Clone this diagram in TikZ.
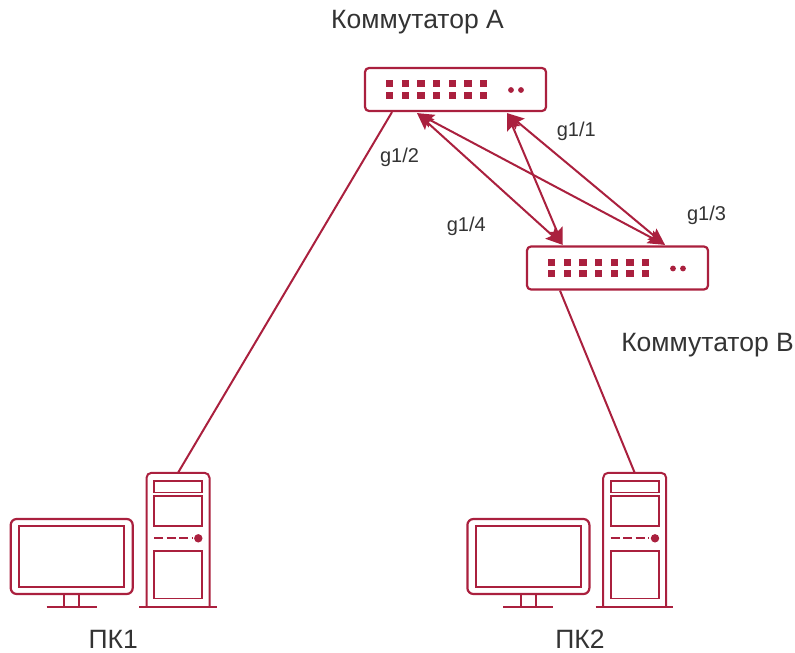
\documentclass[tikz,border=0pt]{standalone}
\usepackage{fontspec}
\setmainfont{Liberation Sans}
\usetikzlibrary{arrows.meta}
\definecolor{netred}{RGB}{170,32,62}
\definecolor{labelgray}{RGB}{51,51,51}

\begin{document}
\begin{tikzpicture}[x=1pt, y=-1pt,
    switchbox/.style={draw=netred, line width=2.2pt, rounded corners=4pt, minimum width=181pt, minimum height=43pt, inner sep=0pt},
    towerbox/.style={minimum width=62.6pt, minimum height=133.7pt, inner sep=0pt},
    title/.style={text=labelgray, font=\fontsize{26.5}{30}\selectfont},
    port/.style={text=labelgray, font=\fontsize{20}{24}\selectfont},
    link/.style={netred, line width=2pt},
    duplex/.style={netred, line width=2pt, {Stealth[length=17pt, width=14pt, inset=3pt]}-{Stealth[length=17pt, width=14pt, inset=3pt]}}]
\useasboundingbox (0, 0) rectangle (795, 653);

\node[switchbox] (swA) at (455.5, 89.5) {};
\node[switchbox] (swB) at (617.5, 268) {};
\foreach \sw in {swA, swB} {
    \foreach \i in {0,...,6}
        \foreach \j in {-5.8, 5.7}
            \fill[netred] ([shift={(-69.5+15.65*\i, \j-3.7)}]\sw.center) rectangle +(7.4, 7.4);
    \fill[netred] ([shift={(55.5, 0.5)}]\sw.center) circle (2.9);
    \fill[netred] ([shift={(65.5, 0.5)}]\sw.center) circle (2.9);
}

\node[title] (titleA) at (417.5, 22.5) {Коммутатор A};
\node[title] (titleB) at (707.5, 345) {Коммутатор B};

% computers
\foreach \pc/\dx in {1/0, 2/456.7} {
\begin{scope}[xshift=\dx]
    \node[towerbox] (tower\pc) at (178, 539.85) {};
    \draw[netred, line width=2pt, rounded corners=5pt] (tower\pc.south west) |- (tower\pc.north) -| (tower\pc.south east);
    \draw[netred, line width=2pt] (139, 606.7) -- (216.7, 606.7);
    \draw[netred, line width=1.6pt] (154, 481) rectangle (202, 492.3);
    \draw[netred, line width=1.6pt] (154, 496) rectangle (202, 525.7);
    \draw[netred, line width=2pt, dash pattern=on 9pt off 3.5pt] (154, 538.3) -- (191.7, 538.3);
    \fill[netred] (198.3, 538.3) circle (4.2);
    \draw[netred, line width=1.6pt] (154, 551) rectangle (202, 598.3);
    \draw[netred, line width=2.2pt, rounded corners=6pt] (10.7, 519) rectangle (132.7, 594);
    \draw[netred, line width=1.6pt] (19, 525.7) rectangle (124, 586.7);
    \draw[netred, line width=2pt] (64, 594) -- (64, 606.7) (79, 594) -- (79, 606.7);
    \draw[netred, line width=2pt] (46.7, 606.7) -- (96.7, 606.7);
\end{scope}
}
\node[title] (pc1) at (113.3, 639) {ПК1};
\node[title] (pc2) at (580, 639) {ПК2};

\draw[link] ([xshift=-63.5]swA.south) -- (tower1.north);
\draw[link] ([xshift=-57.5]swB.south) -- (tower2.north);

\draw[duplex] ([shift={(-38.5, 1)}]swA.south) -- ([shift={(-54.8, -0.5)}]swB.north);
\draw[duplex] ([shift={(-38.5, 1)}]swA.south) -- ([shift={(47.5, -0.5)}]swB.north);
\draw[duplex] ([shift={(51.5, 1)}]swA.south) -- ([shift={(-54.8, -0.5)}]swB.north);
\draw[duplex] ([shift={(51.5, 1)}]swA.south) -- ([shift={(47.5, -0.5)}]swB.north);

\node[port] (g11) at (576.3, 131) {g1/1};
\node[port] (g12) at (399.5, 157) {g1/2};
\node[port] (g13) at (706.5, 215) {g1/3};
\node[port] (g14) at (466.3, 226) {g1/4};
\end{tikzpicture}
\end{document}
